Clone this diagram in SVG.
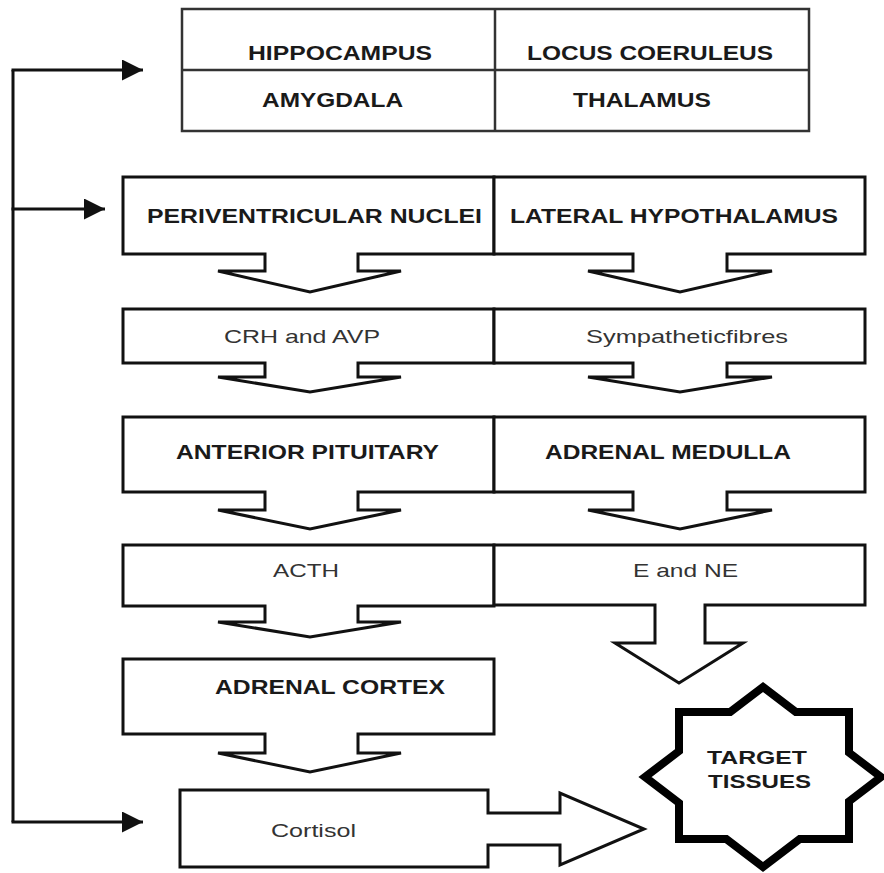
<svg xmlns="http://www.w3.org/2000/svg" width="884" height="873" viewBox="0 0 884 873">
<defs>
<style>
.box{fill:#fff;stroke:#111;stroke-width:3;stroke-linejoin:miter}
.tbl{fill:none;stroke:#333;stroke-width:2.5}
.b{font-family:"Liberation Sans",Arial,sans-serif;font-weight:bold;font-size:20px;fill:#1a1a1a}
.r{font-family:"Liberation Sans",Arial,sans-serif;font-size:19px;fill:#333}
.ln{fill:none;stroke:#111;stroke-width:3}
.star{fill:#fff;stroke:#000;stroke-width:8;stroke-linejoin:miter}
</style>
<marker id="ah" viewBox="0 0 10 10" refX="10" refY="5" markerWidth="8" markerHeight="7" markerUnits="strokeWidth" orient="auto">
<path d="M0,0 L10,5 L0,10 Z" fill="#111"/>
</marker>
</defs>
<rect width="884" height="873" fill="#fff"/>

<g id="connectors">
<path class="ln" d="M13,822 L13,70"/>
<path class="ln" d="M11.5,70 L143,70" marker-end="url(#ah)"/>
<path class="ln" d="M11.5,209 L105,209" marker-end="url(#ah)"/>
<path class="ln" d="M11.5,822 L143,822" marker-end="url(#ah)"/>
</g>

<g id="brain-table">
<rect class="tbl" x="182" y="9" width="627" height="122"/>
<line class="tbl" x1="182" y1="70" x2="809" y2="70"/>
<line class="tbl" x1="495" y1="9" x2="495" y2="131"/>
<text class="b" x="248" y="60" textLength="184" lengthAdjust="spacingAndGlyphs">HIPPOCAMPUS</text>
<text class="b" x="527" y="60" textLength="246" lengthAdjust="spacingAndGlyphs">LOCUS COERULEUS</text>
<text class="b" x="262" y="107" textLength="141" lengthAdjust="spacingAndGlyphs">AMYGDALA</text>
<text class="b" x="573" y="107" textLength="138" lengthAdjust="spacingAndGlyphs">THALAMUS</text>
</g>

<g id="periventricular">
<path class="box" d="M123,177 L494,177 L494,254 L358,254 L358,271 L401,271 L310,292 L218,271 L265,271 L265,254 L123,254 Z"/>
<text class="b" x="147" y="223" textLength="335" lengthAdjust="spacingAndGlyphs">PERIVENTRICULAR NUCLEI</text>
</g>
<g id="lateral-hypothalamus">
<path class="box" d="M494,177 L865,177 L865,254 L727,254 L727,271 L772,271 L680,292 L588,271 L633,271 L633,254 L494,254 Z"/>
<text class="b" x="510" y="223" textLength="328" lengthAdjust="spacingAndGlyphs">LATERAL HYPOTHALAMUS</text>
</g>

<g id="crh-avp">
<path class="box" d="M123,309 L494,309 L494,363 L358,363 L358,377 L401,377 L310,392 L218,377 L265,377 L265,363 L123,363 Z"/>
<text class="r" x="224" y="343" textLength="156" lengthAdjust="spacingAndGlyphs">CRH and AVP</text>
</g>
<g id="sympathetic">
<path class="box" d="M494,309 L865,309 L865,363 L727,363 L727,377 L772,377 L680,392 L588,377 L633,377 L633,363 L494,363 Z"/>
<text class="r" x="586" y="343" textLength="202" lengthAdjust="spacingAndGlyphs">Sympatheticfibres</text>
</g>

<g id="anterior-pituitary">
<path class="box" d="M123,417 L494,417 L494,492 L358,492 L358,510 L401,510 L310,529 L218,510 L265,510 L265,492 L123,492 Z"/>
<text class="b" x="176" y="459" textLength="263" lengthAdjust="spacingAndGlyphs">ANTERIOR PITUITARY</text>
</g>
<g id="adrenal-medulla">
<path class="box" d="M494,417 L865,417 L865,492 L727,492 L727,510 L772,510 L680,529 L588,510 L633,510 L633,492 L494,492 Z"/>
<text class="b" x="545" y="459" textLength="246" lengthAdjust="spacingAndGlyphs">ADRENAL MEDULLA</text>
</g>

<g id="acth">
<path class="box" d="M123,545 L494,545 L494,606 L358,606 L358,622 L401,622 L310,637 L218,622 L265,622 L265,606 L123,606 Z"/>
<text class="r" x="273" y="577" textLength="66" lengthAdjust="spacingAndGlyphs">ACTH</text>
</g>
<g id="e-ne">
<path class="box" d="M494,545 L865,545 L865,605 L705,605 L705,643 L743,643 L679,683 L615,643 L655,643 L655,605 L494,605 Z"/>
<text class="r" x="633" y="577" textLength="105" lengthAdjust="spacingAndGlyphs">E and NE</text>
</g>

<g id="adrenal-cortex">
<path class="box" d="M123,659 L494,659 L494,734 L358,734 L358,753 L401,753 L310,772 L218,753 L265,753 L265,734 L123,734 Z"/>
<text class="b" x="215" y="694" textLength="230" lengthAdjust="spacingAndGlyphs">ADRENAL CORTEX</text>
</g>

<g id="cortisol">
<path class="box" d="M180,790 L488,790 L488,813 L560,813 L560,793 L644,829 L560,865 L560,845 L488,845 L488,867 L180,867 Z"/>
<text class="r" x="271" y="837" textLength="85" lengthAdjust="spacingAndGlyphs">Cortisol</text>
</g>

<g id="target-tissues">
<path class="star" d="M763,687 L795.8,712 L849,712 L849,752.6 L881,777 L849,801.4 L849,839 L799.7,839 L763,867 L726.3,839 L679,839 L679,802.9 L645,777 L679,751.1 L679,712 L730.2,712 Z"/>
<text class="b" x="707" y="764" font-size="18" textLength="100" lengthAdjust="spacingAndGlyphs" style="font-size:18px">TARGET</text>
<text class="b" x="708" y="788" textLength="103" lengthAdjust="spacingAndGlyphs" style="font-size:18px">TISSUES</text>
</g>
</svg>
